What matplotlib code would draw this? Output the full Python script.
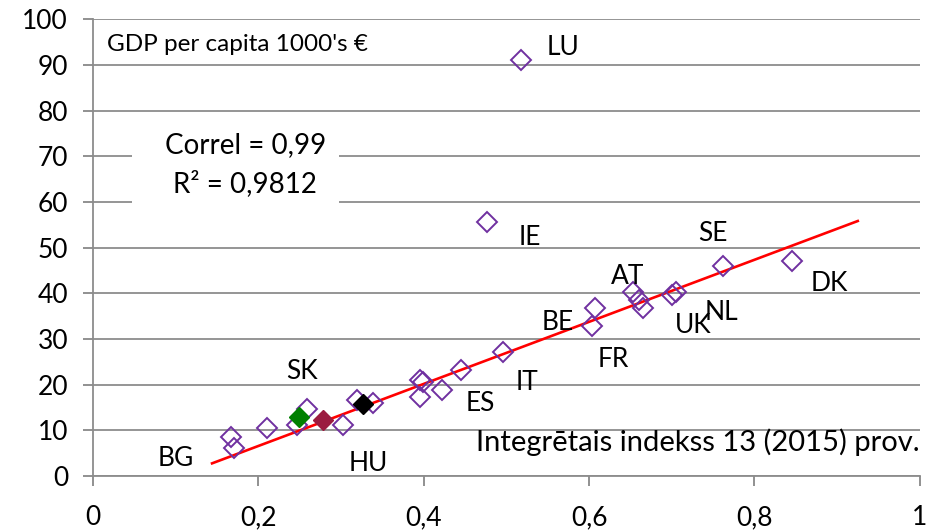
import matplotlib.pyplot as plt
from matplotlib.patches import Rectangle
import numpy as np

plt.rcParams['font.family'] = ['Lato', 'DejaVu Sans']

# open diamonds (integrated index, GDP per capita 1000's EUR)
x_open = [0.167, 0.170, 0.210, 0.247, 0.259, 0.302, 0.319, 0.339, 0.395, 0.399,
          0.395, 0.422, 0.445, 0.496, 0.476, 0.518, 0.603, 0.607, 0.653, 0.660,
          0.665, 0.700, 0.705, 0.762, 0.845]
y_open = [8.5, 6.1, 10.5, 11.2, 14.7, 11.2, 16.6, 15.9, 21.0, 20.5,
          17.3, 18.8, 23.2, 27.1, 55.6, 91.0, 32.8, 36.8, 40.3, 38.5,
          36.8, 39.6, 40.3, 46.0, 47.0]

# highlighted (filled) points
x_fill = [0.249, 0.278, 0.327]
y_fill = [12.9, 12.3, 15.7]
fill_colors = ['#008000', '#9B1B40', '#000000']

# country labels
labels = ['LU', 'IE', 'SE', 'DK', 'AT', 'NL', 'UK', 'BE', 'FR', 'IT', 'ES', 'SK', 'BG', 'HU']
label_x = [0.568, 0.528, 0.750, 0.891, 0.647, 0.760, 0.726, 0.562, 0.629, 0.525, 0.469, 0.253, 0.100, 0.333]
label_y = [93.7, 52.3, 53.2, 42.2, 43.6, 35.9, 33.0, 33.7, 25.6, 20.4, 15.8, 22.8, 3.9, 2.8]

# linear trend
trend_slope = 67.9
trend_intercept = -6.98
trend_range = [0.144, 0.925]

fig = plt.figure(figsize=(9.3, 5.32), dpi=100)
ax = fig.add_axes([0.1, 0.105, 0.889, 0.859])

ax.set_xlim(0, 1)
ax.set_ylim(0, 100)
ax.set_xticks(np.arange(0, 1.01, 0.2))
ax.set_xticklabels(['0', '0,2', '0,4', '0,6', '0,8', '1'])
ax.set_yticks(range(0, 101, 10))
ax.tick_params(labelsize=19, colors='#888888', labelcolor='black', length=7, width=1.3)
ax.tick_params(axis='x', pad=14)
ax.tick_params(axis='y', pad=11)
ax.grid(axis='y', color='#8c8c8c', linewidth=1.3)
ax.set_axisbelow(True)
for s in ['top', 'right']:
    ax.spines[s].set_visible(False)
for s in ['left', 'bottom']:
    ax.spines[s].set_color('#8c8c8c')
    ax.spines[s].set_linewidth(1.3)

# white box behind the correlation text
ax.add_patch(Rectangle((0.047, 56), 0.25, 21, transform=ax.transData,
                       facecolor='white', edgecolor='none', zorder=1.5))

tx = np.array(trend_range)
ax.plot(tx, trend_slope * tx + trend_intercept, color='red', linewidth=1.9, zorder=3)

ax.plot(x_open, y_open, linestyle='none', marker='D', markersize=10,
        markerfacecolor='none', markeredgecolor='#7030A0', markeredgewidth=1.4, zorder=4)
for xf, yf, c in zip(x_fill, y_fill, fill_colors):
    ax.plot(xf, yf, linestyle='none', marker='D', markersize=10,
            markerfacecolor=c, markeredgecolor=c, zorder=5)

for t, lx, ly in zip(labels, label_x, label_y):
    ax.text(lx, ly, t, fontsize=19, ha='center', va='center', zorder=6)

ax.text(0.017, 94.5, "GDP per capita 1000's €", fontsize=17.5, ha='left', va='center')
ax.text(0.184, 72.5, 'Correl = 0,99', fontsize=20, ha='center', va='center', zorder=6)
ax.text(0.184, 64.0, 'R² = 0,9812', fontsize=20, ha='center', va='center', zorder=6)
ax.text(1.0, 7.5, 'Integrētais indekss 13 (2015) prov.', fontsize=21, ha='right', va='center')

plt.savefig('out.png', dpi=100)
